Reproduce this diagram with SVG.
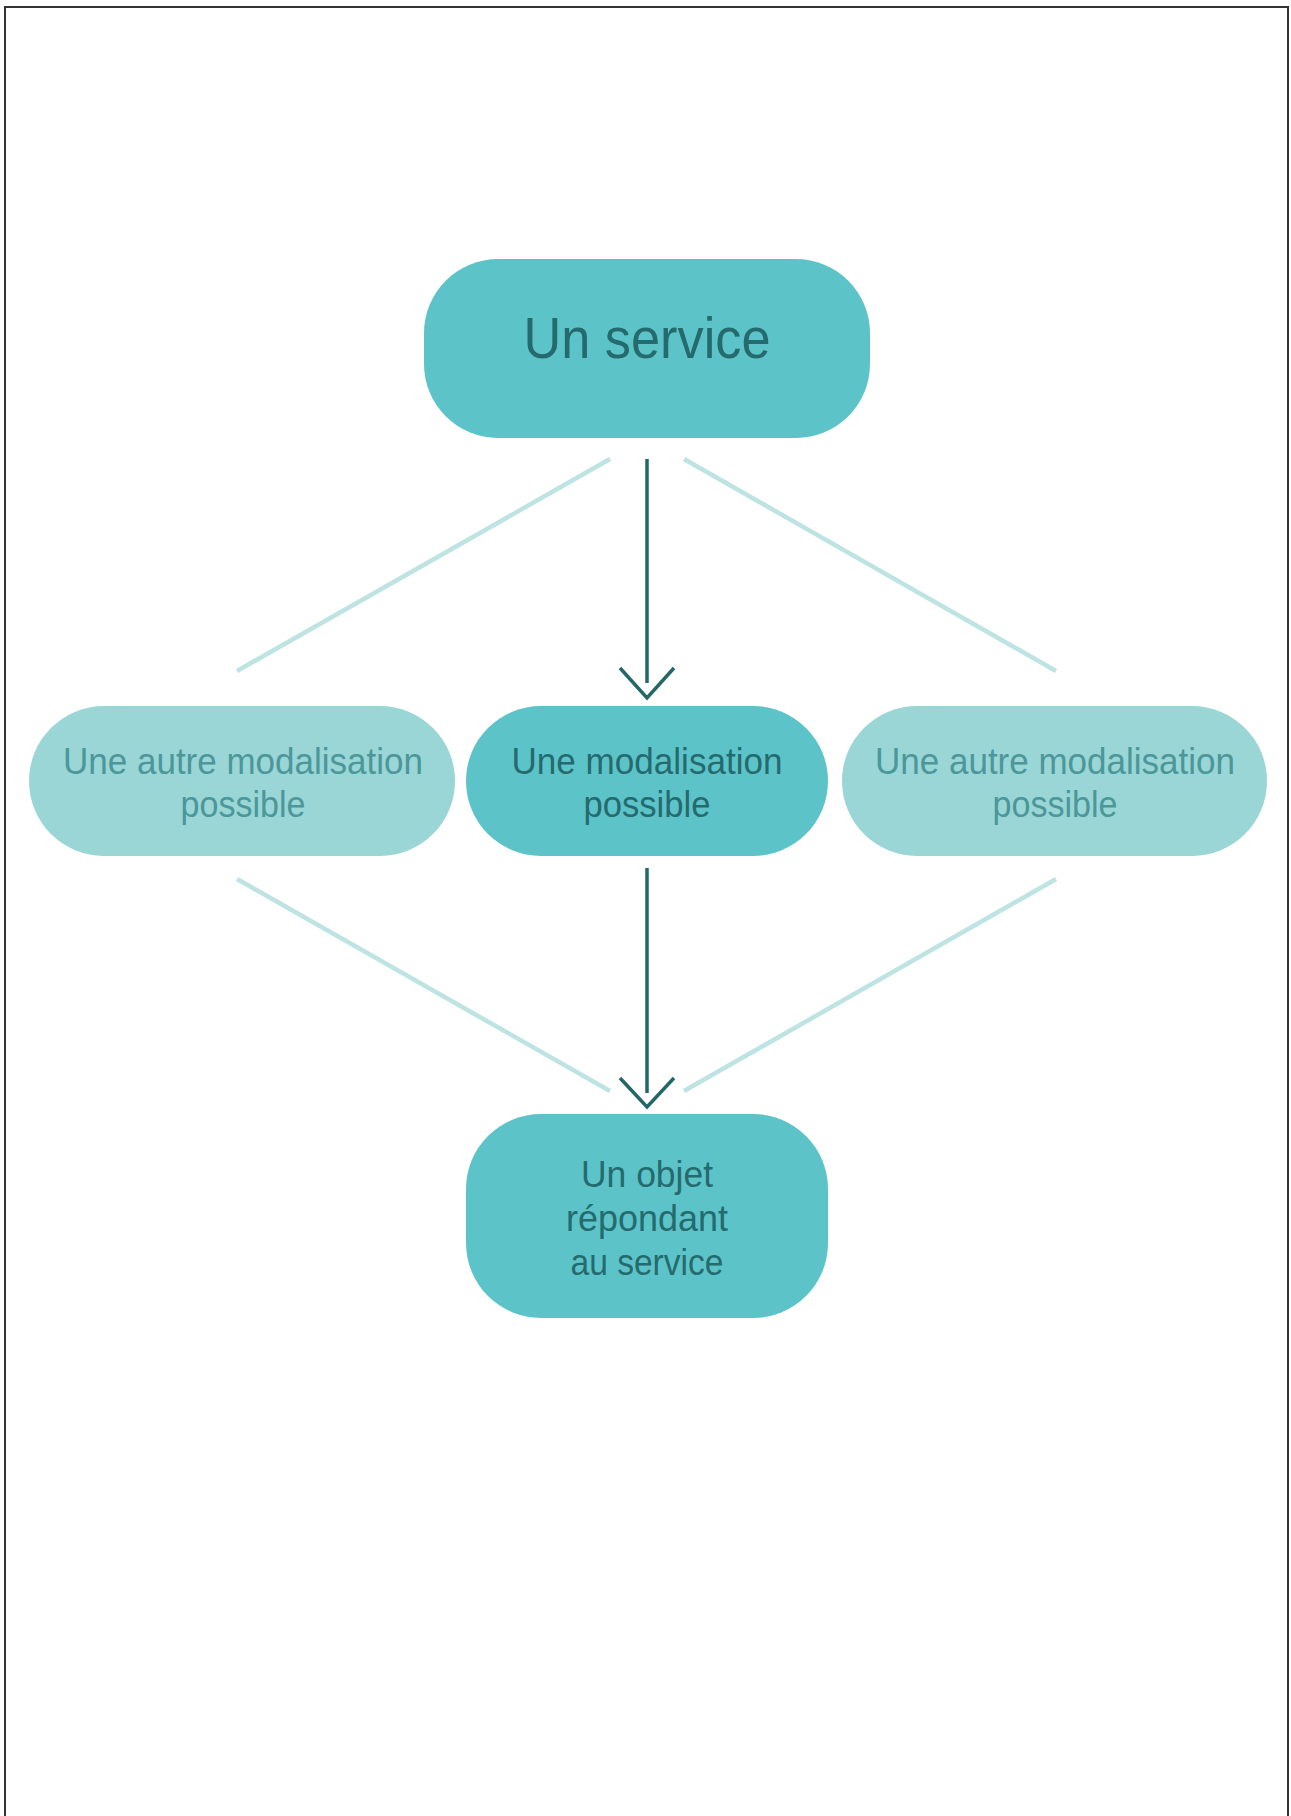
<svg xmlns="http://www.w3.org/2000/svg" width="1291" height="1816" viewBox="0 0 1291 1816">
<style>
.main{fill:#5cc4c9}
.alt{fill:#9ad6d6}
.t{font-family:"Liberation Sans",Arial,sans-serif;text-anchor:middle}
.td{fill:#256a6d}
.tl{fill:#4b979a}
.dark{stroke:#246769;stroke-width:3.5;fill:none}
.light{stroke:#bde4e2;stroke-width:4.5;fill:none}
</style>
<rect x="0" y="0" width="1291" height="1816" fill="#fff"/>
<rect x="5" y="7" width="1283" height="1820" fill="none" stroke="#333" stroke-width="2"/>
<g id="connectors">
<line class="light" x1="610" y1="459" x2="237" y2="671"/>
<line class="light" x1="684" y1="459" x2="1056" y2="671"/>
<line class="light" x1="237" y1="879" x2="610" y2="1091"/>
<line class="light" x1="1056" y1="879" x2="684" y2="1091"/>
<line class="dark" x1="647" y1="459" x2="647" y2="683"/>
<polyline class="dark" points="620,668 647,698 674,668"/>
<line class="dark" x1="647" y1="868" x2="647" y2="1093"/>
<polyline class="dark" points="620,1078 647,1107 674,1078"/>
</g>
<g id="service">
<rect class="main" x="424" y="259" width="446" height="179" rx="74"/>
<text class="t td" x="647" y="358" font-size="57" textLength="247" lengthAdjust="spacingAndGlyphs">Un service</text>
</g>
<g id="autre-gauche">
<rect class="alt" x="29" y="706" width="426" height="150" rx="75"/>
<text class="t tl" x="243" y="774" font-size="37" textLength="360" lengthAdjust="spacingAndGlyphs">Une autre modalisation</text>
<text class="t tl" x="243" y="817" font-size="37" textLength="125" lengthAdjust="spacingAndGlyphs">possible</text>
</g>
<g id="modalisation">
<rect class="main" x="466" y="706" width="362" height="150" rx="75"/>
<text class="t td" x="647" y="774" font-size="37" textLength="271" lengthAdjust="spacingAndGlyphs">Une modalisation</text>
<text class="t td" x="647" y="817" font-size="37" textLength="127" lengthAdjust="spacingAndGlyphs">possible</text>
</g>
<g id="autre-droite">
<rect class="alt" x="842" y="706" width="425" height="150" rx="75"/>
<text class="t tl" x="1055" y="774" font-size="37" textLength="360" lengthAdjust="spacingAndGlyphs">Une autre modalisation</text>
<text class="t tl" x="1055" y="817" font-size="37" textLength="125" lengthAdjust="spacingAndGlyphs">possible</text>
</g>
<g id="objet">
<rect class="main" x="466" y="1114" width="362" height="204" rx="75"/>
<text class="t td" x="647" y="1187" font-size="36" textLength="132" lengthAdjust="spacingAndGlyphs">Un objet</text>
<text class="t td" x="647" y="1231" font-size="36" textLength="162" lengthAdjust="spacingAndGlyphs">répondant</text>
<text class="t td" x="647" y="1275" font-size="36" textLength="153" lengthAdjust="spacingAndGlyphs">au service</text>
</g>
</svg>
